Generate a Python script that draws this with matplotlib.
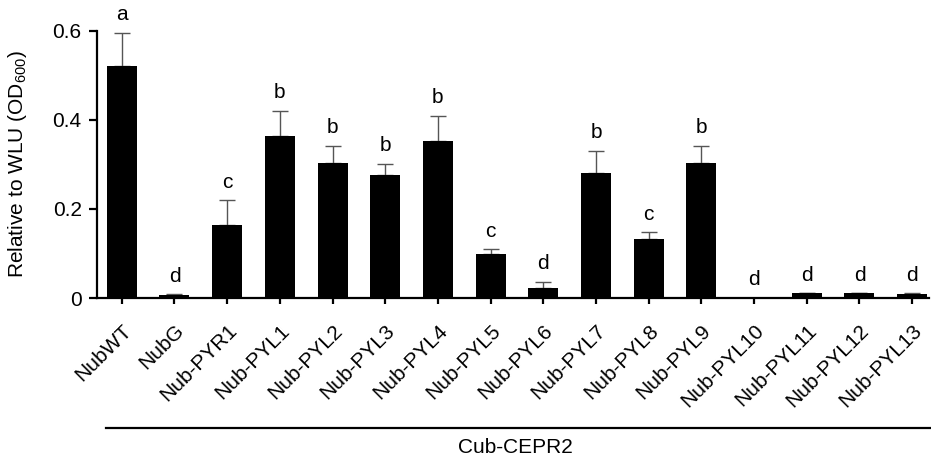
import matplotlib
matplotlib.use("Agg")
import matplotlib.pyplot as plt
import matplotlib.transforms as mtransforms
from matplotlib.lines import Line2D
import numpy as np

plt.rcParams['font.family'] = ['Liberation Sans', 'DejaVu Sans']
plt.rcParams['mathtext.fontset'] = 'custom'
plt.rcParams['mathtext.rm'] = 'Liberation Sans'
plt.rcParams['mathtext.it'] = 'Liberation Sans:italic'

categories = ["NubWT", "NubG", "Nub-PYR1", "Nub-PYL1", "Nub-PYL2", "Nub-PYL3",
              "Nub-PYL4", "Nub-PYL5", "Nub-PYL6", "Nub-PYL7", "Nub-PYL8",
              "Nub-PYL9", "Nub-PYL10", "Nub-PYL11", "Nub-PYL12", "Nub-PYL13"]
values = [0.522, 0.006, 0.163, 0.363, 0.303, 0.276, 0.352, 0.099, 0.022,
          0.282, 0.132, 0.303, 0.001, 0.011, 0.011, 0.009]
errors = [0.074, 0.002, 0.057, 0.058, 0.039, 0.026, 0.058, 0.011, 0.015,
          0.049, 0.016, 0.039, 0.0, 0.0, 0.0, 0.002]
letters = ["a", "d", "c", "b", "b", "b", "b", "c", "d", "b", "c", "b",
           "d", "d", "d", "d"]
yticks = [0, 0.2, 0.4, 0.6]
ytick_labels = ["0", "0.2", "0.4", "0.6"]
group_label = "Cub-CEPR2"
ylabel = "Relative to WLU (OD$_{600}$)"

FS = 15
W, H = 931, 461
fig = plt.figure(figsize=(W / 100, H / 100), dpi=100)
ax = fig.add_axes([97 / W, 1 - 298 / H, (929 - 97) / W, (298 - 31) / H])

x = np.arange(len(categories))
ax.bar(x, values, width=0.57, color='black', zorder=2)
ax.errorbar(x, values, yerr=[np.zeros(len(errors)), errors], fmt='none',
            ecolor='#555555', elinewidth=1, capsize=6, capthick=1, zorder=1)

for xi, v, e, l in zip(x, values, errors, letters):
    ax.annotate(l, (xi, v + e), xytext=(0, 6), textcoords='offset points',
                ha='center', va='bottom', fontsize=FS, clip_on=False)

ax.set_xlim(-0.47, 15.32)
ax.set_ylim(0, 0.6)
ax.set_yticks(yticks)
ax.set_yticklabels(ytick_labels)
ax.set_xticks(x)
ax.set_xticklabels(categories, rotation=45, ha='right', va='top',
                   rotation_mode='anchor')
shift = mtransforms.ScaledTranslation(3.5 / 100, 0, fig.dpi_scale_trans)
for lab in ax.get_xticklabels():
    lab.set_transform(lab.get_transform() + shift)

for s in ['top', 'right']:
    ax.spines[s].set_visible(False)
for s in ['left', 'bottom']:
    ax.spines[s].set_linewidth(1.6)

ax.tick_params(axis='y', length=6, width=1.6, labelsize=FS, pad=5)
ax.tick_params(axis='x', length=4, width=1.6, labelsize=FS, pad=12.5)

fig.text(18 / W, 1 - 164 / H, ylabel, rotation=90, ha='center', va='center',
         fontsize=FS)

fig.add_artist(Line2D([106 / W, 1.0], [1 - 428 / H, 1 - 428 / H],
                      color='black', linewidth=1.6))
fig.text(515 / W, 1 - 447 / H, group_label, ha='center', va='center',
         fontsize=FS)

fig.savefig("out.png", dpi=100)
